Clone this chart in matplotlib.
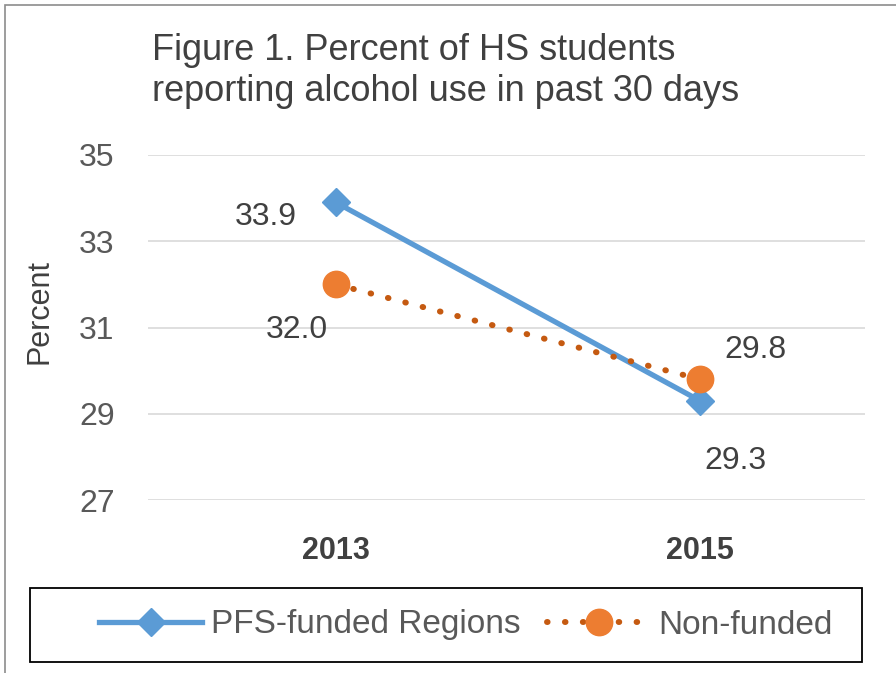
import matplotlib
matplotlib.use("Agg")
import matplotlib.pyplot as plt
from matplotlib.patches import Rectangle
from matplotlib.lines import Line2D

years = ["2013", "2015"]
pfs_funded = [33.9, 29.3]
non_funded = [32.0, 29.8]
yticks = [27, 29, 31, 33, 35]
title_lines = ["Figure 1. Percent of HS students", "reporting alcohol use in past 30 days"]
series_names = ["PFS-funded Regions", "Non-funded"]

plt.rcParams['font.family'] = ['Liberation Sans', 'DejaVu Sans']

W, H = 896, 673
fig = plt.figure(figsize=(W/100, H/100), dpi=100)
fig.patch.set_facecolor('white')

# outer border
fig.add_artist(Rectangle((5/W, -0.05), 1.2, 1 - 5/H + 0.05, transform=fig.transFigure,
                         fill=False, edgecolor='#8c8c8c', linewidth=1.2))

ax = fig.add_axes([148/W, 1 - 500/H, (865-148)/W, (500-155)/H])
x = list(range(len(years)))
blue = '#5B9BD5'
orange = '#ED7D31'
dot = '#C55A11'
dotstyle = (0, (0.1, 2.9))

ax.plot(x, pfs_funded, color=blue, lw=3.8, marker='D', markersize=14, zorder=3)
ax.plot(x, non_funded, color=dot, lw=4.3, linestyle=dotstyle, dash_capstyle='round', zorder=3)
ax.plot(x, non_funded, color=orange, lw=0, marker='o', markersize=19, zorder=4)

ax.set_ylim(27, 35)
ax.set_yticks(yticks)
ax.set_xlim(-0.516, 1.453)
ax.set_xticks(x)
ax.set_xticklabels(years, fontsize=22, fontweight='bold', color='#404040')
ax.tick_params(axis='x', length=0, pad=26)
ax.tick_params(axis='y', length=0, pad=24, labelsize=23, labelcolor='#595959')
for s in ax.spines.values():
    s.set_visible(False)
ax.grid(axis='y', color='#D9D9D9', lw=1.2)
ax.set_axisbelow(True)

fig.text(40/W, 1 - 311/H, "Percent", rotation=90, fontsize=22, color='#404040',
         ha='center', va='center')

lab_kw = dict(fontsize=23, color='#404040', ha='center', va='center')
ax.annotate(f"{pfs_funded[0]:.1f}", (x[0], pfs_funded[0]), xytext=(-70, -15), textcoords='offset pixels', **lab_kw)
ax.annotate(f"{non_funded[0]:.1f}", (x[0], non_funded[0]), xytext=(-39, -46), textcoords='offset pixels', **lab_kw)
ax.annotate(f"{non_funded[1]:.1f}", (x[1], non_funded[1]), xytext=(55, 29), textcoords='offset pixels', **lab_kw)
ax.annotate(f"{pfs_funded[1]:.1f}", (x[1], pfs_funded[1]), xytext=(35, -60), textcoords='offset pixels', **lab_kw)

for line, base in zip(title_lines, [60, 101]):
    fig.text(152/W, 1 - base/H, line, fontsize=26, color='#404040', ha='left', va='baseline')

handles = [
    Line2D([], [], color=blue, lw=3.8, marker='D', markersize=14),
    Line2D([], [], color=dot, lw=4.3, linestyle=dotstyle, dash_capstyle='round',
           marker='o', markersize=19, markerfacecolor=orange, markeredgecolor=orange),
]
fig.add_artist(Rectangle((30/W, 1 - 662/H), (862-30)/W, (662-588)/H, transform=fig.transFigure,
                         fill=False, edgecolor='black', linewidth=1.3))
leg = fig.legend(handles, series_names, loc='center', ncol=2,
                 bbox_to_anchor=(466/W, 1 - 625/H), fontsize=24, frameon=False,
                 handlelength=3.1, handletextpad=0.25, columnspacing=0.8, labelcolor='#595959')

fig.savefig("out.png", dpi=100, facecolor='white')
